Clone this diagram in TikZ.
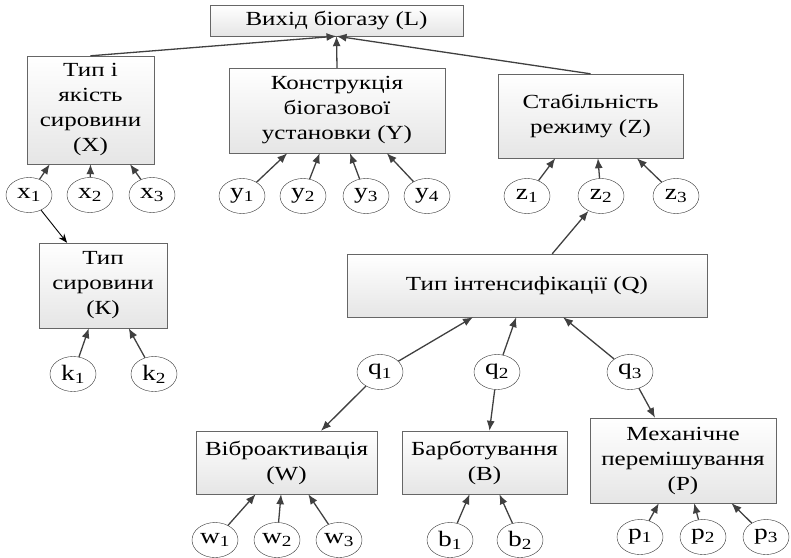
\documentclass[tikz,border=0pt]{standalone}
\usepackage{fontspec}
\setmainfont{Liberation Serif}
\newfontfamily\timesfont[FakeStretch=1.25]{Liberation Serif}
\usetikzlibrary{arrows.meta,calc,shadows,shapes.geometric}
\tikzset{
  factor/.style={draw=black!60,top color=white,bottom color=black!10,
    drop shadow={shadow xshift=1.2pt,shadow yshift=-1.2pt,fill=black!30},
    align=center,inner sep=2pt,font=\timesfont\fontsize{20}{25}\selectfont},
  sign/.style={draw=black!80,fill=white,ellipse,minimum width=46pt,minimum height=35pt,
    inner sep=0pt,font=\timesfont\fontsize{22}{24}\selectfont},
  arr/.style={draw=black!75,line width=1.3pt,-{Latex[length=10pt,width=8pt]}},
  thinarr/.style={draw=black,line width=0.9pt,-{Stealth[length=9pt,width=7pt]}}
}
\newcommand{\sub}[2]{#1\textsubscript{#2}}
\begin{document}
\begin{tikzpicture}[x=1pt,y=-1pt]
\useasboundingbox (0,0) rectangle (791,557);
% factor boxes
\node[factor,minimum width=253pt,minimum height=31pt] (L) at (336.5,20.5) {Вихід біогазу (L)};
\node[factor,minimum width=127pt,minimum height=108pt] (X) at (90.5,110) {Тип і\\якість\\сировини\\(X)};
\node[factor,minimum width=216pt,minimum height=85pt] (Y) at (337,110.5) {Конструкція\\біогазової\\установки (Y)};
\node[factor,minimum width=185pt,minimum height=84pt] (Z) at (590.5,116) {Стабільність\\режиму (Z)};
\node[factor,minimum width=128pt,minimum height=85pt] (K) at (103,285.5) {Тип\\сировини\\(К)};
\node[factor,minimum width=360pt,minimum height=63pt] (Q) at (527,285.5) {Тип інтенсифікації (Q)};
\node[factor,minimum width=181pt,minimum height=63pt] (W) at (286.5,462.5) {Віброактивація\\(W)};
\node[factor,minimum width=165pt,minimum height=63pt] (B) at (484.5,462.5) {Барботування\\(B)};
\node[factor,minimum width=186pt,minimum height=85pt] (P) at (683,460.5) {Механічне\\перемішування\\(P)};

% signs
\node[sign] (x1) at (29,195) {\sub{x}{1}};
\node[sign] (x2) at (90,195) {\sub{x}{2}};
\node[sign] (x3) at (152,195) {\sub{x}{3}};
\node[sign] (y1) at (242,196) {\sub{y}{1}};
\node[sign] (y2) at (303,196) {\sub{y}{2}};
\node[sign] (y3) at (366,196) {\sub{y}{3}};
\node[sign] (y4) at (427,196) {\sub{y}{4}};
\node[sign] (z1) at (527,196) {\sub{z}{1}};
\node[sign] (z2) at (601,196) {\sub{z}{2}};
\node[sign] (z3) at (676,196) {\sub{z}{3}};
\node[sign] (k1) at (73,374) {\sub{k}{1}};
\node[sign] (k2) at (154,374) {\sub{k}{2}};
\node[sign] (q1) at (380,372) {\sub{q}{1}};
\node[sign] (q2) at (497,372) {\sub{q}{2}};
\node[sign] (q3) at (630,372) {\sub{q}{3}};
\node[sign] (w1) at (215,540) {\sub{w}{1}};
\node[sign] (w2) at (277,540) {\sub{w}{2}};
\node[sign] (w3) at (339,540) {\sub{w}{3}};
\node[sign] (b1) at (450,540) {\sub{b}{1}};
\node[sign] (b2) at (520,540) {\sub{b}{2}};
\node[sign] (p1) at (640,537) {\sub{p}{1}};
\node[sign] (p2) at (703,537) {\sub{p}{2}};
\node[sign] (p3) at (766,537) {\sub{p}{3}};

% top level
\draw[arr] (X.north) -- (L.south);
\draw[arr] (Y.north) -- (L.south);
\draw[arr] (Z.north) -- (L.south);
% x, y, z
\draw[arr] (x1) -- ($(X.south west)!.18!(X.south east)$);
\draw[arr] (x2) -- ($(X.south west)!.5!(X.south east)$);
\draw[arr] (x3) -- ($(X.south west)!.81!(X.south east)$);
\draw[arr] (y1) -- ($(Y.south west)!.27!(Y.south east)$);
\draw[arr] (y2) -- ($(Y.south west)!.42!(Y.south east)$);
\draw[arr] (y3) -- ($(Y.south west)!.56!(Y.south east)$);
\draw[arr] (y4) -- ($(Y.south west)!.73!(Y.south east)$);
\draw[arr] (z1) -- ($(Z.south west)!.31!(Z.south east)$);
\draw[arr] (z2) -- ($(Z.south west)!.54!(Z.south east)$);
\draw[arr] (z3) -- ($(Z.south west)!.75!(Z.south east)$);
% raw material
\draw[thinarr] (x1) -- ($(K.north west)!.22!(K.north east)$);
\draw[arr] (k1) -- ($(K.south west)!.39!(K.south east)$);
\draw[arr] (k2) -- ($(K.south west)!.7!(K.south east)$);
% intensification
\draw[arr] ($(Q.north west)!.57!(Q.north east)$) -- (z2);
\draw[arr] (q1) -- ($(Q.south west)!.35!(Q.south east)$);
\draw[arr] (q2) -- ($(Q.south west)!.47!(Q.south east)$);
\draw[arr] (q3) -- ($(Q.south west)!.6!(Q.south east)$);
\draw[arr] (q1) -- ($(W.north west)!.69!(W.north east)$);
\draw[arr] (q2) -- ($(B.north west)!.53!(B.north east)$);
\draw[arr] (q3) -- ($(P.north west)!.35!(P.north east)$);
% lowest level
\draw[arr] (w1) -- ($(W.south west)!.33!(W.south east)$);
\draw[arr] (w2) -- ($(W.south west)!.47!(W.south east)$);
\draw[arr] (w3) -- ($(W.south west)!.62!(W.south east)$);
\draw[arr] (b1) -- ($(B.south west)!.41!(B.south east)$);
\draw[arr] (b2) -- ($(B.south west)!.59!(B.south east)$);
\draw[arr] (p1) -- ($(P.south west)!.37!(P.south east)$);
\draw[arr] (p2) -- ($(P.south west)!.56!(P.south east)$);
\draw[arr] (p3) -- ($(P.south west)!.76!(P.south east)$);
\end{tikzpicture}
\end{document}
